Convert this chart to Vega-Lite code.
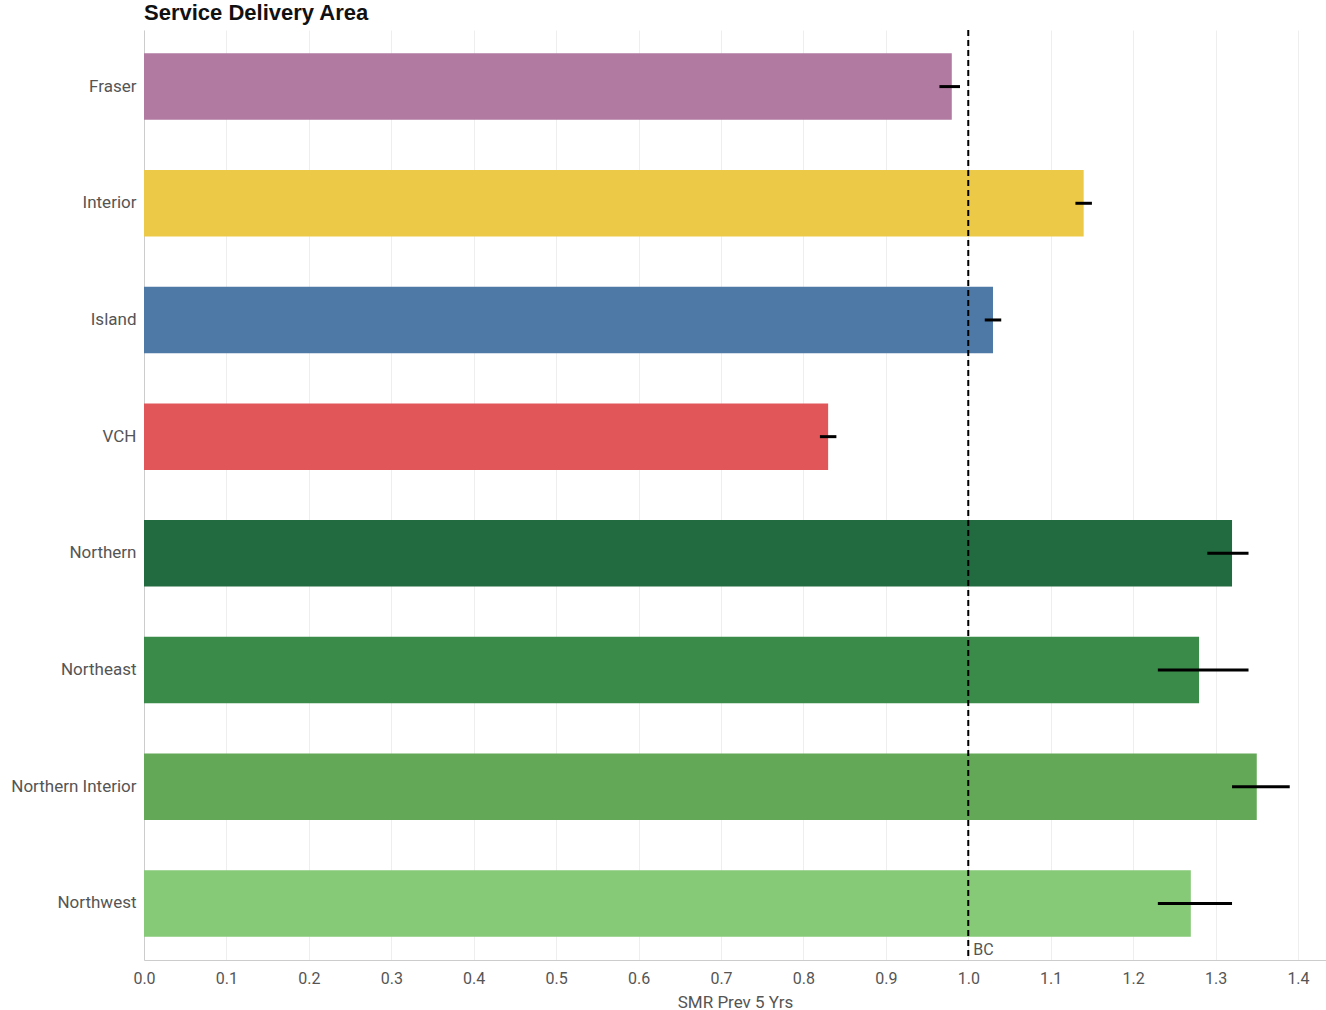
{
  "$schema": "https://vega.github.io/schema/vega-lite/v6.json",
  "width": 1326,
  "height": 1010,
  "autosize": {"type": "fit", "contains": "padding"},
  "padding": {"left": 10, "top": 2, "right": 0, "bottom": 0},
  "background": "white",
  "title": {"text": "Service Delivery Area", "anchor": "start", "fontSize": 22, "fontWeight": "bold", "font": "Liberation Sans", "color": "#111", "offset": 4, "frame": "group"},
  "config": {"view": {"stroke": null}, "font": "Roboto"},
  "data": {"values": [
    {"sda": "Fraser", "smr": 0.98, "lo": 0.965, "hi": 0.99, "c": "#b07aa1"},
    {"sda": "Interior", "smr": 1.14, "lo": 1.13, "hi": 1.15, "c": "#edc948"},
    {"sda": "Island", "smr": 1.03, "lo": 1.02, "hi": 1.04, "c": "#4e79a7"},
    {"sda": "VCH", "smr": 0.83, "lo": 0.82, "hi": 0.84, "c": "#e15759"},
    {"sda": "Northern", "smr": 1.32, "lo": 1.29, "hi": 1.34, "c": "#226a3f"},
    {"sda": "Northeast", "smr": 1.28, "lo": 1.23, "hi": 1.34, "c": "#3a8a4a"},
    {"sda": "Northern Interior", "smr": 1.35, "lo": 1.32, "hi": 1.39, "c": "#62a857"},
    {"sda": "Northwest", "smr": 1.27, "lo": 1.23, "hi": 1.32, "c": "#86c977"}
  ]},
  "layer": [
    {"mark": {"type": "bar"},
      "encoding": {
        "y": {"field": "sda", "type": "nominal", "sort": null, "title": null,
          "scale": {"paddingInner": 0.43, "paddingOuter": 0.2},
          "axis": {"labelFontSize": 17, "labelColor": "#555", "ticks": false, "labelPadding": 8, "domainColor": "#ccc"}},
        "x": {"field": "smr", "type": "quantitative", "title": "SMR Prev 5 Yrs",
          "scale": {"domain": [0, 1.434], "nice": false},
          "axis": {"values": [0,0.1,0.2,0.3,0.4,0.5,0.6,0.7,0.8,0.9,1.0,1.1,1.2,1.3,1.4], "format": ".1f",
            "labelAlign": "center", "labelFlush": true, "labelFontSize": 16, "labelColor": "#555", "labelPadding": 10, "tickSize": 0,
            "gridColor": "#eee", "domainColor": "#ccc", "titleFontSize": 17, "titleFontWeight": "normal", "titleColor": "#555", "titlePadding": 8}},
        "color": {"field": "c", "type": "nominal", "scale": null}
      }},
    {"mark": {"type": "rule", "strokeWidth": 3, "color": "black"},
      "encoding": {
        "y": {"field": "sda", "type": "nominal", "sort": null},
        "x": {"field": "lo", "type": "quantitative"}, "x2": {"field": "hi"}}},
    {"data": {"values": [{"v": 1.0, "label": "BC"}]},
      "layer": [
        {"mark": {"type": "rule", "strokeDash": [6, 4], "strokeWidth": 2, "color": "black"},
          "encoding": {"x": {"field": "v", "type": "quantitative"}}},
        {"mark": {"type": "text", "align": "left", "dx": 5, "baseline": "bottom", "fontSize": 16, "color": "#555", "y": {"expr": "height - 2"}},
          "encoding": {"x": {"field": "v", "type": "quantitative"}, "text": {"field": "label"}}}
      ]}
  ]
}
